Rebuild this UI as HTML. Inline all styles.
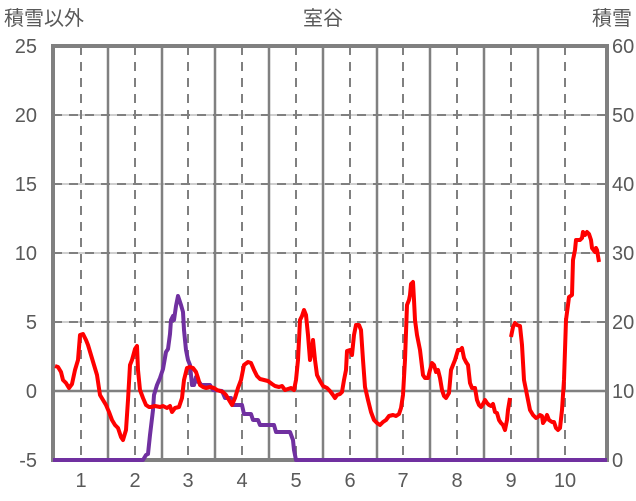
<!DOCTYPE html><html><head><meta charset="utf-8"><style>body{margin:0;background:#fff}svg{display:block}text{font-family:"Liberation Sans","Noto Sans CJK JP",sans-serif;fill:#595959;font-size:20px}</style></head><body>
<svg width="636" height="501" viewBox="0 0 636 501">
<g stroke="#bfbfbf" stroke-width="1.5"><line x1="53" x2="607" y1="115" y2="115"/><line x1="53" x2="607" y1="184" y2="184"/><line x1="53" x2="607" y1="253" y2="253"/><line x1="53" x2="607" y1="322" y2="322"/></g>
<g stroke="#808080" stroke-width="2" stroke-dasharray="9,7"><line x1="53" x2="607" y1="115" y2="115"/><line x1="53" x2="607" y1="184" y2="184"/><line x1="53" x2="607" y1="253" y2="253"/><line x1="53" x2="607" y1="322" y2="322"/>
<line x1="81" x2="81" y1="46" y2="460"/><line x1="135" x2="135" y1="46" y2="460"/><line x1="188" x2="188" y1="46" y2="460"/><line x1="242" x2="242" y1="46" y2="460"/><line x1="296" x2="296" y1="46" y2="460"/><line x1="350" x2="350" y1="46" y2="460"/><line x1="403" x2="403" y1="46" y2="460"/><line x1="457" x2="457" y1="46" y2="460"/><line x1="511" x2="511" y1="46" y2="460"/><line x1="565" x2="565" y1="46" y2="460"/></g>
<g stroke="#808080" stroke-width="2.5"><line x1="108" x2="108" y1="46" y2="460"/><line x1="162" x2="162" y1="46" y2="460"/><line x1="215" x2="215" y1="46" y2="460"/><line x1="269" x2="269" y1="46" y2="460"/><line x1="323" x2="323" y1="46" y2="460"/><line x1="377" x2="377" y1="46" y2="460"/><line x1="430" x2="430" y1="46" y2="460"/><line x1="484" x2="484" y1="46" y2="460"/><line x1="538" x2="538" y1="46" y2="460"/><line x1="53" x2="607" y1="391" y2="391"/></g>
<rect x="53" y="46" width="554" height="414" fill="none" stroke="#808080" stroke-width="4"/>
<g fill="none" stroke-width="4" stroke-linejoin="round">
<polyline stroke="#7030a0" points="53,460 143,460 146,455 148,454 150,435 153,410 154,395 157,385 160,378 163,369 166,352 168,349 170,334 171,320 173,316 174,320 176,306 178,296 181,305 183,312 184,330 186,350 188,360 190,365 192,385 194,385 196,377 198,382 200,383 201,385 210,385 213,390 222,391 225,398 231,398 233,405 242,405 244,414 251,414 253,420 258,420 260,425 274,425 276,432 290,432 293,440 294,450 296,460 607,460"/>
<polyline stroke="#ff0000" points="55,366 58,367 61,372 63,380 66,383 69,388 72,384 75,370 78,360 80,335 83,334 86,340 88,345 91,355 94,365 97,375 100,395 103,400 106,405 109,412 112,420 115,425 118,428 121,437 123,440 126,430 128,400 130,365 132,360 135,349 137,346 138,370 140,390 143,398 146,405 149,407 151,407 155,406 160,407 163,406 167,408 170,406 172,412 175,408 179,407 182,398 184,380 187,368 190,367 193,368 196,372 198,378 200,385 203,387 206,388 210,387 214,388 217,390 220,391 223,392 226,395 229,400 232,405 235,398 238,388 241,380 244,365 248,362 251,363 254,370 257,376 260,379 264,380 268,381 272,384 275,386 279,387 282,386 285,390 288,389 291,388 294,390 296,380 298,360 300,320 302,316 304,310 306,315 308,335 310,360 312,350 313,340 315,360 317,375 320,381 323,386 327,388 330,391 333,395 335,398 337,395 340,394 342,392 344,380 346,370 347,351 350,350 352,355 354,335 356,325 359,325 361,330 363,360 365,387 368,400 371,412 374,420 377,423 380,425 383,422 386,420 389,416 393,415 396,416 399,414 401,408 403,395 405,360 407,305 409,300 410,295 411,284 413,282 414,300 415,320 417,335 420,350 423,375 425,378 428,378 430,370 432,363 434,365 436,372 438,370 440,378 442,390 444,396 446,398 449,393 451,370 455,360 458,350 460,350 462,348 464,358 466,362 468,365 470,383 472,388 475,388 477,400 479,405 481,407 483,404 485,400 487,403 489,405 491,406 493,404 495,412 497,413 499,420 501,423 503,425 505,430 507,420 508,410 510,398"/>
<polyline stroke="#ff0000" points="511,337 513,327 515,323 517,325 520,326 522,345 524,380 526,390 528,400 530,410 533,415 536,418 538,417 540,415 542,416 543,423 545,420 547,415 549,420 552,422 554,422 556,428 558,430 560,428 562,410 564,380 566,320 568,305 569,297 572,295 573,260 575,250 576,240 580,240 582,238 583,232 585,235 587,232 589,234 591,240 592,248 595,252 596,248 597,250 599,262"/>
</g>
<text x="4" y="25">積雪以外</text><text x="323" y="25" text-anchor="middle">室谷</text><text x="632" y="25" text-anchor="end">積雪</text>
<g text-anchor="end"><text x="37" y="53">25</text><text x="37" y="122">20</text><text x="37" y="191">15</text><text x="37" y="260">10</text><text x="37" y="329">5</text><text x="37" y="398">0</text><text x="37" y="467">-5</text></g>
<g><text x="612" y="53">60</text><text x="612" y="122">50</text><text x="612" y="191">40</text><text x="612" y="260">30</text><text x="612" y="329">20</text><text x="612" y="398">10</text><text x="612" y="467">0</text></g>
<g text-anchor="middle"><text x="81" y="487">1</text><text x="135" y="487">2</text><text x="188" y="487">3</text><text x="242" y="487">4</text><text x="296" y="487">5</text><text x="350" y="487">6</text><text x="403" y="487">7</text><text x="457" y="487">8</text><text x="511" y="487">9</text><text x="565" y="487">10</text></g>
</svg></body></html>
